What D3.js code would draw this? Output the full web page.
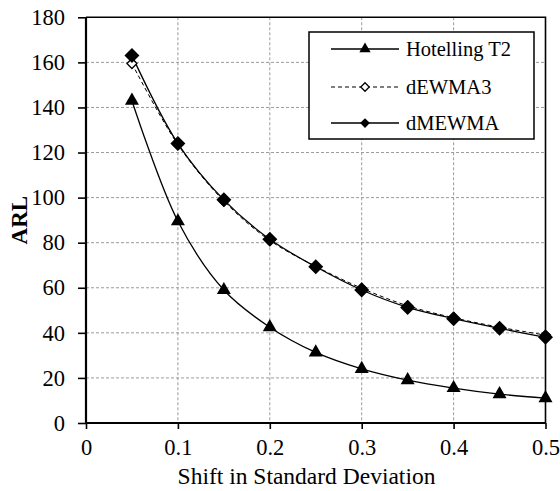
<!DOCTYPE html>
<html>
<head>
<meta charset="utf-8">
<script src="https://cdn.jsdelivr.net/npm/d3@7"></script>
<style>
  body { margin: 0; background: #fff; }
  svg text { font-family: "Liberation Serif", Tinos, "Times New Roman", Times, "DejaVu Serif", serif !important; fill: #000; }
</style>
</head>
<body>
<div id="chart"></div>
<script>
// data
var shifts = [0.05, 0.1, 0.15, 0.2, 0.25, 0.3, 0.35, 0.4, 0.45, 0.5];
var hotelling = [143, 89.5, 59, 42.5, 31.3, 24, 19, 15.5, 12.8, 11];
var dewma3 = [159.5, 123.5, 98.5, 81, 69.5, 59.8, 52, 46.7, 42.5, 39];
var dmewma = [163, 124, 99, 81.5, 69.3, 59, 51.3, 46.3, 42, 38];
var seriesNames = ["Hotelling T2", "dEWMA3", "dMEWMA"];
var xTicks = [0, 0.1, 0.2, 0.3, 0.4, 0.5];
var yTicks = [0, 20, 40, 60, 80, 100, 120, 140, 160, 180];

var svg = d3.select("#chart").append("svg")
    .attr("width", 560).attr("height", 491),
    margin = {top: 17.3, right: 14.5, bottom: 68, left: 86},
    width = 560 - margin.left - margin.right,
    height = 491 - margin.top - margin.bottom,
    g = svg.append("g").attr("transform", "translate(" + margin.left + "," + margin.top + ")");

var xScale = d3.scaleLinear().domain([0, 0.5]).range([0, width]),
    yScale = d3.scaleLinear().domain([0, 180]).range([height, 0]);

// gridlines
g.append("g").selectAll("line")
    .data(yTicks.slice(1, -1))
    .enter().append("line")
    .attr("x1", 0).attr("x2", width)
    .attr("y1", function(d) { return yScale(d); })
    .attr("y2", function(d) { return yScale(d); })
    .attr("stroke", "#9a9a9a").attr("stroke-width", 1).attr("stroke-dasharray", "3,2");

g.append("g").selectAll("line")
    .data(xTicks.slice(1, -1))
    .enter().append("line")
    .attr("y1", 0).attr("y2", height)
    .attr("x1", function(d) { return xScale(d); })
    .attr("x2", function(d) { return xScale(d); })
    .attr("stroke", "#9a9a9a").attr("stroke-width", 1).attr("stroke-dasharray", "3,2");

// frame top / right
g.append("path")
    .attr("d", "M0,0H" + width + "V" + height)
    .attr("fill", "none").attr("stroke", "#000").attr("stroke-width", 1.6);

// axes
var xAxis = g.append("g")
    .attr("transform", "translate(0," + height + ")")
    .call(d3.axisBottom(xScale).tickValues(xTicks).tickSize(6).tickPadding(10)
      .tickFormat(function(d) { return d === 0 ? "0" : d3.format(".1f")(d); }));

var yAxis = g.append("g")
    .call(d3.axisLeft(yScale).tickValues(yTicks).tickSize(8).tickPadding(13));

[xAxis, yAxis].forEach(function(ax) {
  ax.attr("font-family", null);
  ax.select(".domain").attr("stroke", "#000").attr("stroke-width", 2.2);
  ax.selectAll(".tick line").attr("stroke", "#000").attr("stroke-width", 1.6);
  ax.selectAll("text").style("font-size", "22.5px").attr("fill", "#000");
});
xAxis.select(".domain").attr("d", "M0,0H" + width);
yAxis.select(".domain").attr("d", "M0," + height + "V0");

// axis titles
svg.append("text")
    .attr("x", 306.5).attr("y", 484)
    .attr("text-anchor", "middle")
    .style("font-size", "23.5px")
    .text("Shift in Standard Deviation");

svg.append("text")
    .attr("transform", "translate(27," + (margin.top + height / 2) + ") rotate(-90)")
    .attr("text-anchor", "middle")
    .style("font-size", "23px").style("font-weight", "bold")
    .text("ARL");

// series
var series = [
  {name: seriesNames[0], values: hotelling, dash: null, marker: "triangle"},
  {name: seriesNames[1], values: dewma3, dash: "4,3", marker: "open"},
  {name: seriesNames[2], values: dmewma, dash: null, marker: "diamond"}
];

var line = d3.line()
    .x(function(d, i) { return xScale(shifts[i]); })
    .y(function(d) { return yScale(d); })
    .curve(d3.curveCatmullRom.alpha(0.5));

function marker(sel, type, scale) {
  if (type === "triangle") {
    sel.append("path")
      .attr("d", d3.symbol().type(d3.symbolTriangle).size(85 * scale))
      .attr("fill", "#000");
  } else if (type === "diamond") {
    sel.append("path")
      .attr("d", "M0,-" + 7.5 * scale + "L" + 7.5 * scale + ",0L0," + 7.5 * scale + "L-" + 7.5 * scale + ",0Z")
      .attr("fill", "#000");
  } else {
    sel.append("path")
      .attr("d", "M0,-" + 5 * scale + "L" + 5 * scale + ",0L0," + 5 * scale + "L-" + 5 * scale + ",0Z")
      .attr("fill", "#fff").attr("stroke", "#000").attr("stroke-width", 1.3);
  }
}

var lineOrder = [0, 2, 1];
lineOrder.forEach(function(k) {
  var s = series[k];
  g.append("path")
    .attr("d", line(s.values))
    .attr("fill", "none").attr("stroke", "#000")
    .attr("stroke-width", s.dash ? 1 : 1.3)
    .attr("stroke-dasharray", s.dash);
});
series.forEach(function(s) {
  g.append("g").selectAll("g")
    .data(s.values)
    .enter().append("g")
    .attr("transform", function(d, i) { return "translate(" + xScale(shifts[i]) + "," + yScale(d) + ")"; })
    .each(function() { marker(d3.select(this), s.marker, 1); });
});

// legend
var legend = svg.append("g").attr("transform", "translate(309,32)");
legend.append("rect")
    .attr("width", 225).attr("height", 107)
    .attr("fill", "#fff").attr("stroke", "#000").attr("stroke-width", 1.5);

var item = legend.selectAll(".item")
    .data(series)
    .enter().append("g")
    .attr("class", "item")
    .attr("transform", function(d, i) { return "translate(0," + [17, 55, 91][i] + ")"; });

item.append("line")
    .attr("x1", 22).attr("x2", 90)
    .attr("stroke", "#000")
    .attr("stroke-width", function(d) { return d.dash ? 1 : 1.3; })
    .attr("stroke-dasharray", function(d) { return d.dash; });

item.append("g").attr("transform", "translate(56,0)")
    .each(function(d) { marker(d3.select(this), d.marker, d.marker === "open" ? 0.85 : 0.65); });

item.append("text")
    .attr("x", 97).attr("dy", "0.33em")
    .style("font-size", "20.5px")
    .text(function(d) { return d.name; });
</script>
</body>
</html>
